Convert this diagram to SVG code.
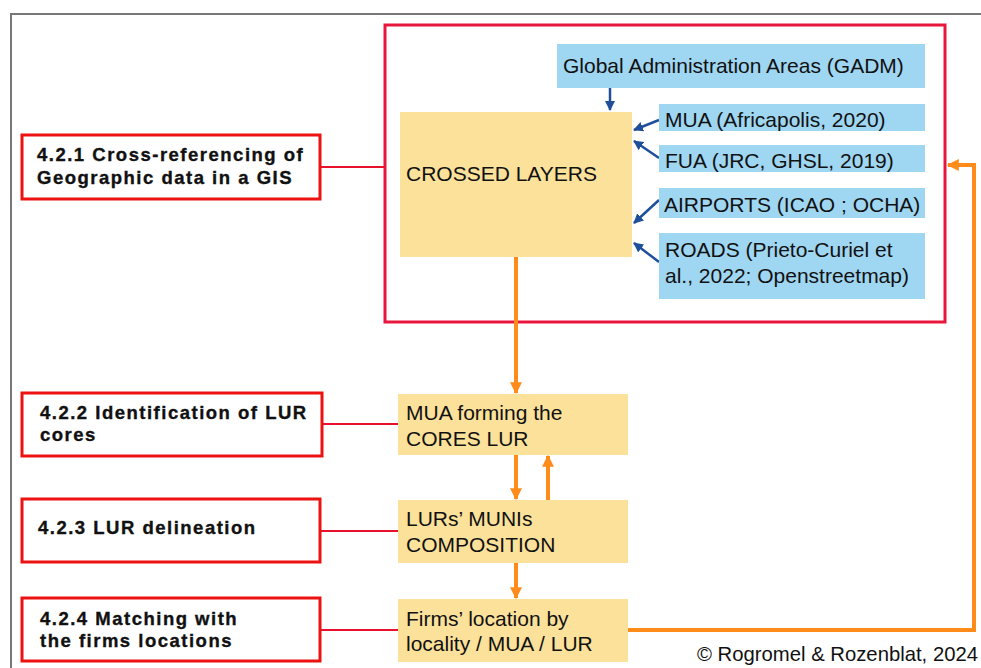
<svg xmlns="http://www.w3.org/2000/svg" width="981" height="668" viewBox="0 0 981 668">
<style>
.lbl{fill:#fff;stroke:#ee1111;stroke-width:3}
.lt{font-family:"Liberation Sans",Arial,sans-serif;font-weight:bold;font-size:18.5px;fill:#111;letter-spacing:1.5px;stroke:#111;stroke-width:0.35}
.t{font-family:"Liberation Sans",Arial,sans-serif;font-size:21px;fill:#111}
.blue{fill:#9fd6f2}
.or{fill:#fce19a}
.rl{stroke:#e8102a;stroke-width:2;fill:none}
.ba{stroke:#1f4f9a;stroke-width:2.5;fill:none;marker-end:url(#bh)}
.oa{stroke:#ff8c1a;stroke-width:4;fill:none;marker-end:url(#oh)}
</style>
<defs>
<marker id="bh" viewBox="0 0 10 10" refX="9" refY="5" markerWidth="4" markerHeight="4" orient="auto" markerUnits="strokeWidth"><path d="M0,0 L10,5 L0,10 z" fill="#1f4f9a"/></marker>
<marker id="oh" viewBox="0 0 10 10" refX="9" refY="5" markerWidth="3.2" markerHeight="3" orient="auto" markerUnits="strokeWidth"><path d="M0,0 L10,5 L0,10 z" fill="#ff8c1a"/></marker>
</defs>
<rect width="981" height="668" fill="#fff"/>
<path d="M11,668 V14 H981" stroke="#777" stroke-width="2" fill="none"/>
<g id="frame"><rect x="385" y="25" width="560" height="297" fill="none" stroke="#e8163c" stroke-width="3"/></g>
<g id="connectors">
<line class="rl" x1="320" y1="167" x2="385" y2="167"/>
<line class="rl" x1="322" y1="424" x2="398" y2="424"/>
<line class="rl" x1="320" y1="531" x2="398" y2="531"/>
<line class="rl" x1="320" y1="630" x2="398" y2="630"/>
<line class="ba" x1="610" y1="88" x2="610" y2="110"/>
<line class="ba" x1="659" y1="120" x2="634" y2="130"/>
<line class="ba" x1="659" y1="158" x2="634" y2="141"/>
<line class="ba" x1="659" y1="200" x2="634" y2="223"/>
<line class="ba" x1="659" y1="262" x2="634" y2="243"/>
<line class="oa" x1="516" y1="257" x2="516" y2="393"/>
<line class="oa" x1="516" y1="455" x2="516" y2="499"/>
<line class="oa" x1="548" y1="500" x2="548" y2="456"/>
<line class="oa" x1="516" y1="563" x2="516" y2="598"/>
<path class="oa" d="M628,630 H974 V165 H948"/>
</g>
<g id="n421"><rect class="lbl" x="22" y="135" width="298" height="64"/><text class="lt" x="37" y="161">4.2.1 Cross-referencing of</text><text class="lt" x="37" y="184">Geographic data in a GIS</text></g>
<g id="n422"><rect class="lbl" x="22" y="393" width="300" height="63"/><text class="lt" x="40" y="419">4.2.2 Identification of LUR</text><text class="lt" x="40" y="441">cores</text></g>
<g id="n423"><rect class="lbl" x="22" y="499" width="298" height="63"/><text class="lt" x="38" y="534">4.2.3 LUR delineation</text></g>
<g id="n424"><rect class="lbl" x="22" y="598" width="298" height="63"/><text class="lt" x="40" y="625">4.2.4 Matching with</text><text class="lt" x="40" y="647">the firms locations</text></g>
<g id="gadm"><rect class="blue" x="557" y="44" width="368" height="44"/><text class="t" x="563" y="73">Global Administration Areas (GADM)</text></g>
<g id="crossed"><rect class="or" x="400" y="112" width="232" height="145"/><text class="t" x="406" y="181">CROSSED LAYERS</text></g>
<g id="mua"><rect class="blue" x="659" y="104" width="266" height="27"/><text class="t" x="665" y="127">MUA (Africapolis, 2020)</text></g>
<g id="fua"><rect class="blue" x="659" y="145" width="266" height="27"/><text class="t" x="665" y="168">FUA (JRC, GHSL, 2019)</text></g>
<g id="airports"><rect class="blue" x="659" y="188" width="266" height="30"/><text class="t" x="664" y="212">AIRPORTS (ICAO ; OCHA)</text></g>
<g id="roads"><rect class="blue" x="659" y="233" width="266" height="66"/><text class="t" x="665" y="257">ROADS (Prieto-Curiel et</text><text class="t" x="665" y="283">al., 2022; Openstreetmap)</text></g>
<g id="cores"><rect class="or" x="398" y="394" width="230" height="61"/><text class="t" x="406" y="420">MUA forming the</text><text class="t" x="406" y="446">CORES LUR</text></g>
<g id="munis"><rect class="or" x="398" y="500" width="230" height="63"/><text class="t" x="406" y="526">LURs’ MUNIs</text><text class="t" x="406" y="552">COMPOSITION</text></g>
<g id="firms"><rect class="or" x="398" y="599" width="230" height="63"/><text class="t" x="406" y="626">Firms’ location by</text><text class="t" x="406" y="651">locality / MUA / LUR</text></g>
<text class="t" x="697" y="661" style="font-size:20.3px">© Rogromel &amp; Rozenblat, 2024</text>
</svg>
